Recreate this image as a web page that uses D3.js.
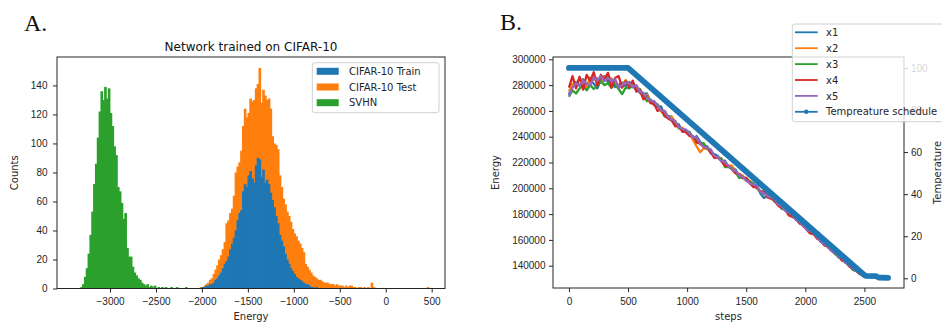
<!DOCTYPE html>
<html>
<head>
<meta charset="utf-8">
<script src="https://cdn.jsdelivr.net/npm/d3@7"></script>
<style>
  body { margin: 0; background: #fff; }
  svg { display: block; font-family: "DejaVu Sans", sans-serif; }
  .tick text { font-size: 10px; fill: #262626; }
  .tick line { stroke: #262626; }
</style>
</head>
<body>
<svg id="chart" width="942" height="325"></svg>
<script>
// ---- panel A data: histogram counts, bins 20 energy units wide ----
const binWidth = 20;
const trainStart = -2000;
const trainCounts = [1,1,2,2,3,3,4,6,7,9, 11,14,17,19,22,27,31,35,40,47,
  52,54,67,72,70,78,81,76,73,85, 90,89,77,82,73,75,72,66,61,56,
  50,45,37,33,29,24,20,17,14,12, 10,8,7,6,5,4,3,3,2,1, 1,0,1];
const testStart = -2020;
const testCounts = [1,1,2,3,4,6,7,10,13,16, 20,23,27,32,45,47,52,55,64,80,
  84,87,95,112,124,118,121,131,129,130, 138,141,152,128,137,133,130,131,124,105,
  100,99,96,78,70,62,58,53,50,46, 41,38,36,33,31,28,25,17,15,13,
  11,9,8,7,6,6,5,4,4,4, 3,3,3,2,3,2,2,2,1,2,
  1,2,2,1,1,0,1,1,0,1, 0,1,0,4,1];
const testOutlierBins = [450];
const testOutlierCounts = [1];
const svhnStart = -3320;
const svhnCounts = [1,3,8,14,24,37,53,72,86,104, 122,136,130,139,131,138,121,112,98,92,
  70,67,59,48,52,28,22,22,15,11, 9,7,6,4,3,2,3,1,2,1,
  2,0,1,0,1,0,1,0,0,1, 0,0,1,0,0,0,0,1];
const energyTicksA = [-3000, -2500, -2000, -1500, -1000, -500, 0, 500];
const countTicks = [0, 20, 40, 60, 80, 100, 120, 140];

// ---- panel B data: energy of five chains (in thousands), sampled every 30 steps ----
const steps = d3.range(0, 2701, 30);
const x1 = [273,279,282.5,279.5,284.5,280,284,281,277.5,284, 287,282.5,285,278.5,280,282,279,282.5,278.5,279,
  274,273,273.5,267,267.5,263,263.5,256,256,255.5, 250,249.5,244,244.5,243.5,238.5,240.5,236,233,232.5,
  227,226.5,225,221,221.5,216.5,215.5,214.5,209,208, 208,205,202,202,196,192.5,194,194,190.5,187.5,
  187,183.5,180,180,176.5,173,171.5,170,166,164.5, 163,159.5,156,155,153.5,150,146.5,145,144,140.5,
  137,136,134.5,132.5,131.5,131.8,131.9,131.5,131,131.3, 131];
const x2 = [275,281,280.5,285.5,282.5,278,286,284,285.5,282, 286,288.5,283,284.5,278,280,284,280.5,281.5,277,
  277,271,272.5,268,266.5,265,259.5,260,255,255.5, 251,246.5,247,243.5,242.5,237.5,232.5,228,231,230.5,
  230,224.5,224,223,218.5,217.5,217.5,212.5,211,210, 206,206,203,200,198,197.5,194,193,191.5,187.5,
  186,184.5,181,178,176.5,175,170.5,169,167,165.5, 161,159.5,158,154,152.5,150,148.5,144,143,140.5,
  138.5,136,133.5,132.5,132.3,131.8,131.4,131.5,131.5,131.1, 130.8];
const x3 = [271,276,273.5,277.5,279.5,276,280,277,279.5,283, 280,281.5,278,280.5,277,273,278,277.5,279.5,276,
  277,272,267.5,269,264.5,265,260.5,256,256,252.5, 252,246.5,246,243.5,243.5,239.5,238.5,234,235,230.5,
  229,224.5,224,223,216.5,216.5,215.5,212.5,208,209, 206,205,204,200,198,195.5,195,194,189.5,188.5,
  184,183.5,182,178,176.5,173,172.5,169,166,164.5, 163,158.5,157,156,152.5,149,147.5,145,144,140.5,
  137,136,134.3,132.2,132,132,131.6,131.3,131.3,131.2, 131];
const x4 = [278,287,277.5,286.5,276.5,288,283,290,279.5,288, 284,289.5,278,285.5,287,278,283,278.5,283.5,275,
  276,269,271.5,266,265.5,260,261.5,256,254,252.5, 248,248.5,244,243.5,240.5,240.5,235.5,235,232,231.5,
  228,223.5,224,221,217.5,217.5,214.5,211.5,211,208, 208,204,201,201,197,197.5,193,192,190.5,186.5,
  185,183.5,179,178,176.5,173,171.5,168,165,164.5, 161,159.5,156,155,151.5,150,148.5,144,143,139.5,
  138,136,133.7,132.5,132.3,131.6,131.6,131.7,131.1,131.1, 131];
const x5 = [272,278,281.5,279.5,283.5,281,280,286,283.5,287, 283,285.5,283,284.5,278,280,282,281.5,278.5,280,
  275,274,270.5,268,267.5,264,260.5,260,255,253.5, 252,247.5,246,245.5,242.5,239.5,239.5,235,232,231.5,
  230,225.5,224,221,220.5,217.5,214.5,213.5,210,209, 206,204,203,202,197,196.5,194,193,191.5,187.5,
  186,182.5,181,180,175.5,174,171.5,168,167,165.5, 162,158.5,157,155,151.5,150,147.5,146,142,140.5,
  138,136,134.2,132.5,131.8,131.8,131.7,131.5,131.2,131.1, 131];
const tempSteps = [0, 500, 2500, 2510, 2600, 2620, 2700];
const tempValues = [100, 100, 1.5, 1.2, 1.0, 0.4, 0.2];
const stepTicks = [0, 500, 1000, 1500, 2000, 2500];
const energyTicksB = [140000, 160000, 180000, 200000, 220000, 240000, 260000, 280000, 300000];
const tempTicks = [0, 20, 40, 60, 80, 100];

const svg = d3.select("#chart");
const ink = "#262626";
const fmt = d3.format("d");

/* ================= A. histogram ================= */
const A = { left: 57, right: 445, top: 57, bottom: 288.5 };
const xA = d3.scaleLinear().domain([-3577, 645]).range([A.left, A.right]);
const yA = d3.scaleLinear().domain([0, 159.6]).range([A.bottom, A.top]);

const toBins = (start, counts) => counts.map((c, i) => ({ x0: start + i * binWidth, c }));
const histSeries = [
  { name: "CIFAR-10 Test", color: "#ff7f0e",
    bins: toBins(testStart, testCounts).concat(testOutlierBins.map((b, i) => ({ x0: b, c: testOutlierCounts[i] }))) },
  { name: "CIFAR-10 Train", color: "#1f77b4", bins: toBins(trainStart, trainCounts) },
  { name: "SVHN", color: "#2ca02c", bins: toBins(svhnStart, svhnCounts) }
];
const barW = xA(binWidth) - xA(0);

const gA = svg.append("g");
histSeries.forEach(s => {
  gA.append("g").selectAll("rect")
    .data(s.bins.filter(b => b.c > 0))
    .join("rect")
      .attr("x", b => xA(b.x0) - 0.4)
      .attr("width", barW + 0.8)
      .attr("y", b => yA(b.c))
      .attr("height", b => yA(0) - yA(b.c))
      .attr("fill", s.color);
});

// axes
const axA_x = gA.append("g").attr("transform", `translate(0,${A.bottom})`)
  .call(d3.axisBottom(xA).tickValues(energyTicksA).tickFormat(fmt).tickSize(4).tickPadding(5.5));
const axA_y = gA.append("g").attr("transform", `translate(${A.left},0)`)
  .call(d3.axisLeft(yA).tickValues(countTicks).tickFormat(fmt).tickSize(4).tickPadding(5.5));
[axA_x, axA_y].forEach(a => a.select(".domain").remove());
gA.append("rect").attr("x", A.left).attr("y", A.top)
  .attr("width", A.right - A.left).attr("height", A.bottom - A.top)
  .attr("fill", "none").attr("stroke", ink).attr("stroke-width", 1);

gA.append("text").attr("x", (A.left + A.right) / 2).attr("y", 51)
  .attr("text-anchor", "middle").attr("font-size", 12).attr("fill", "#111")
  .text("Network trained on CIFAR-10");
gA.append("text").attr("x", (A.left + A.right) / 2).attr("y", 319.5)
  .attr("text-anchor", "middle").attr("font-size", 10).attr("fill", ink).text("Energy");
gA.append("text").attr("transform", `translate(18,${(A.top + A.bottom) / 2}) rotate(-90)`)
  .attr("text-anchor", "middle").attr("font-size", 10).attr("fill", ink).text("Counts");

// legend A (same order as the original legend)
const legA = gA.append("g");
legA.append("rect").attr("x", 312.3).attr("y", 62.7).attr("width", 126.7).attr("height", 50)
  .attr("rx", 2.5).attr("fill", "#fff").attr("fill-opacity", 0.8).attr("stroke", "#d0d0d0");
const legAItems = [histSeries[1], histSeries[0], histSeries[2]];
legAItems.forEach((s, i) => {
  const cy = 71.3 + i * 15.7;
  legA.append("rect").attr("x", 316.7).attr("y", cy - 3.5).attr("width", 22).attr("height", 7).attr("fill", s.color);
  legA.append("text").attr("x", 349).attr("y", cy + 3.6).attr("font-size", 10).attr("fill", ink).text(s.name);
});

svg.append("text").attr("x", 24).attr("y", 31).attr("font-family", "Liberation Serif, serif")
  .attr("font-size", 24).attr("fill", "#111").text("A.");

/* ================= B. annealing curves ================= */
const B = { left: 553, right: 904, top: 57, bottom: 288 };
const xB = d3.scaleLinear().domain([-135, 2835]).range([B.left, B.right]);
const yE = d3.scaleLinear().domain([122700, 301800]).range([B.bottom, B.top]);
const yT = d3.scaleLinear().domain([-4.6, 105.2]).range([B.bottom, B.top]);

const gB = svg.append("g");
const chains = [
  { name: "x1", color: "#1f77b4", v: x1 },
  { name: "x2", color: "#ff7f0e", v: x2 },
  { name: "x3", color: "#2ca02c", v: x3 },
  { name: "x4", color: "#d62728", v: x4 },
  { name: "x5", color: "#9467bd", v: x5 }
];
const energyLine = d3.line().x((d, i) => xB(steps[i])).y(d => yE(d * 1000));
chains.forEach(c => {
  gB.append("path").datum(c.v).attr("d", energyLine)
    .attr("fill", "none").attr("stroke", c.color).attr("stroke-width", 2.3)
    .attr("stroke-linejoin", "round");
});

const tempLine = d3.line().x((d, i) => xB(tempSteps[i])).y(d => yT(d));
gB.append("path").datum(tempValues).attr("d", tempLine)
  .attr("fill", "none").attr("stroke", "#1f77b4").attr("stroke-width", 5.8)
  .attr("stroke-linecap", "round").attr("stroke-linejoin", "round");

const axB_x = gB.append("g").attr("transform", `translate(0,${B.bottom})`)
  .call(d3.axisBottom(xB).tickValues(stepTicks).tickFormat(fmt).tickSize(4).tickPadding(5.9));
const axB_l = gB.append("g").attr("transform", `translate(${B.left},0)`)
  .call(d3.axisLeft(yE).tickValues(energyTicksB).tickFormat(fmt).tickSize(4).tickPadding(3.5));
const axB_r = gB.append("g").attr("transform", `translate(${B.right},0)`)
  .call(d3.axisRight(yT).tickValues(tempTicks).tickFormat(fmt).tickSize(4).tickPadding(3));
[axB_x, axB_l, axB_r].forEach(a => a.select(".domain").remove());
gB.append("rect").attr("x", B.left).attr("y", B.top)
  .attr("width", B.right - B.left).attr("height", B.bottom - B.top)
  .attr("fill", "none").attr("stroke", ink).attr("stroke-width", 1);

gB.append("text").attr("x", (B.left + B.right) / 2).attr("y", 319.5)
  .attr("text-anchor", "middle").attr("font-size", 10).attr("fill", ink).text("steps");
gB.append("text").attr("transform", `translate(499,${(B.top + B.bottom) / 2}) rotate(-90)`)
  .attr("text-anchor", "middle").attr("font-size", 10).attr("fill", ink).text("Energy");
gB.append("text").attr("transform", `translate(941,${(B.top + B.bottom) / 2}) rotate(-90)`)
  .attr("text-anchor", "middle").attr("font-size", 10).attr("fill", ink).text("Temperature");

// legend B
const legB = gB.append("g");
legB.append("rect").attr("x", 792.3).attr("y", 24).attr("width", 200).attr("height", 97.7)
  .attr("rx", 2.5).attr("fill", "#fff").attr("fill-opacity", 0.8).attr("stroke", "#d0d0d0");
const legBItems = chains.map(c => ({ name: c.name, color: c.color, dot: false }))
  .concat([{ name: "Tempreature schedule", color: "#1f77b4", dot: true }]);
legBItems.forEach((s, i) => {
  const cy = 32.3 + i * 15.9;
  legB.append("line").attr("x1", 795).attr("x2", 817.7).attr("y1", cy).attr("y2", cy)
    .attr("stroke", s.color).attr("stroke-width", 1.8);
  if (s.dot) legB.append("circle").attr("cx", 806.3).attr("cy", cy).attr("r", 2.2).attr("fill", s.color);
  legB.append("text").attr("x", 826).attr("y", cy + 3.6).attr("font-size", 10).attr("fill", ink).text(s.name);
});

svg.append("text").attr("x", 500).attr("y", 30).attr("font-family", "Liberation Serif, serif")
  .attr("font-size", 24).attr("fill", "#111").text("B.");
</script>
</body>
</html>
